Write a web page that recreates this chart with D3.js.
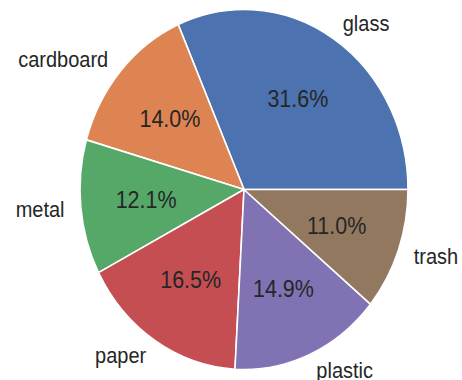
<!DOCTYPE html>
<html>
<head>
<meta charset="utf-8">
<script src="https://cdn.jsdelivr.net/npm/d3@7"></script>
<style>
  html, body { margin: 0; padding: 0; background: #ffffff; }
  svg { display: block; }
</style>
</head>
<body>
<svg id="chart" width="462" height="380"></svg>
<script>
const categories = ["glass", "cardboard", "metal", "paper", "plastic", "trash"];
const values = [31.6, 14.0, 12.1, 16.5, 14.9, 11.0];
const colors = ["#4c72b0", "#dd8452", "#55a868", "#c44e52", "#8172b3", "#937860"];

const W = 462, H = 380;
const cx = 244, cy = 189.5, rx = 164, ry = 180;
const sy = ry / rx;

const svg = d3.select("#chart");
const total = d3.sum(values);

const data = categories.map((c, i) => ({ name: c, value: values[i], color: colors[i] }));

const pie = d3.pie()
  .value(d => d.value)
  .sort(null)
  .startAngle(Math.PI / 2)
  .endAngle(Math.PI / 2 - 2 * Math.PI);

const arcs = pie(data);
const arc = d3.arc().innerRadius(0).outerRadius(rx);

const g = svg.append("g").attr("transform", `translate(${cx},${cy}) scale(1,${sy})`);
g.selectAll("path")
  .data(arcs)
  .enter().append("path")
  .attr("d", arc)
  .attr("fill", d => d.data.color)
  .attr("stroke", "#ffffff")
  .attr("stroke-width", 1.6)
  .attr("vector-effect", "non-scaling-stroke")
  .attr("stroke-linejoin", "round");

const pos = (a, k) => [cx + rx * k * Math.sin(a), cy - ry * k * Math.cos(a)];
const textStretch = 1.08;

// category labels
arcs.forEach(d => {
  const mid = (d.startAngle + d.endAngle) / 2;
  const [x, y] = pos(mid, 1.1);
  const anchor = Math.sin(mid) >= 0 ? "start" : "end";
  svg.append("g")
    .attr("transform", `translate(${x},${y}) scale(1,${textStretch})`)
    .append("text")
    .attr("text-anchor", anchor)
    .attr("dy", "0.35em")
    .attr("font-family", "'Liberation Sans', Arial, sans-serif")
    .attr("font-size", 20)
    .attr("fill", "#262626")
    .text(d.data.name);
});

// percentage labels
arcs.forEach(d => {
  const mid = (d.startAngle + d.endAngle) / 2;
  const [x, y] = pos(mid, 0.6);
  svg.append("g")
    .attr("transform", `translate(${x},${y}) scale(1,${textStretch})`)
    .append("text")
    .attr("text-anchor", "middle")
    .attr("dy", "0.35em")
    .attr("font-family", "'Liberation Sans', Arial, sans-serif")
    .attr("font-size", 21.5)
    .attr("fill", "#262626")
    .text((d.data.value / total * 100).toFixed(1) + "%");
});
</script>
</body>
</html>
